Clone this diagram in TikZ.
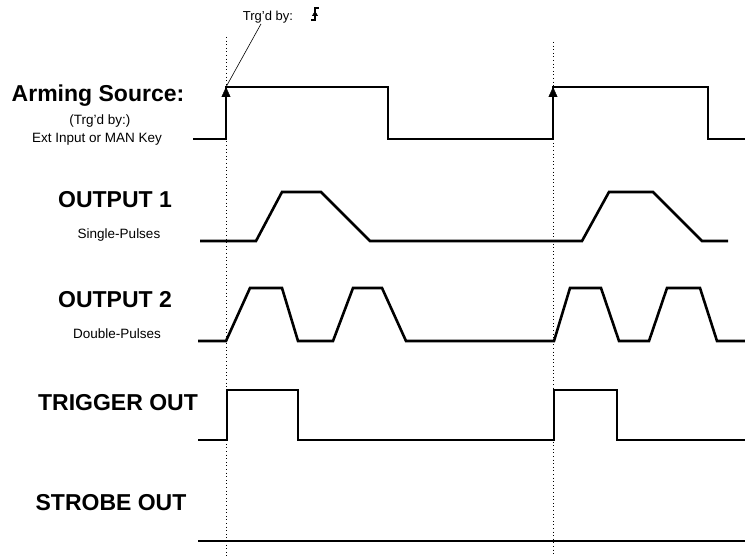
\documentclass[tikz,border=0pt]{standalone}
\usepackage{fontspec}
\setmainfont{Liberation Sans}
\usetikzlibrary{arrows.meta}

\begin{document}
\begin{tikzpicture}[>=Stealth, x=1pt, y=-1pt]

  % Define signal and label styles
  \tikzset{
    signal/.style={line width=2.6pt, line join=miter},
    marker/.style={line width=0.9pt, dash pattern=on 1pt off 2.6pt},
    big label/.style={font=\bfseries\fontsize{23}{25}\selectfont, inner sep=0pt, anchor=base},
    sub label/.style={font=\fontsize{13.5}{15}\selectfont, inner sep=0pt, anchor=base},
    edge arrow/.style={-{Triangle[length=10pt, width=9pt]}},
  }

  \useasboundingbox (0,0) rectangle (745,556);

  % Trigger markers
  \draw[marker] (226,37) -- (226,556);
  \draw[marker] (553,42) -- (553,556);

  % Arming source
  \coordinate (rise1) at (226,87);
  \coordinate (rise2) at (553,87);
  \node[big label] (arm) at (98,102) {Arming Source:};
  \node[sub label] (armtrg) at (100,125) {(Trg'd by:)};
  \node[sub label] (armsrc) at (97,143) {Ext Input or MAN Key};
  \draw[signal] (193,139) -- (226,139) -- (rise1) -- (388,87) -- (388,139) -- (553,139)
    -- (rise2) -- (708,87) -- (708,139) -- (745,139);
  \draw[edge arrow] (226,110) -- (rise1);
  \draw[edge arrow] (553,110) -- (rise2);

  % Trigger note
  \node[sub label, font=\fontsize{13}{14}\selectfont] (trg) at (268,21) {Trg'd by:};
  \draw[line width=0.6pt] ([xshift=-7pt]trg.south) -- (rise1);
  \draw[line width=1.1pt] (311,20) -- (315,20) -- (315,8) -- (319,8);
  \draw[-{Triangle[length=5pt, width=6pt]}] (315,19) -- (315,11);

  % Output 1
  \node[big label] (out1) at (115,208) {OUTPUT 1};
  \node[sub label] (out1sub) at (119,239) {Single-Pulses};
  \draw[signal] (200,241) -- (256,241) -- (282,192) -- (321,192) -- (370,241) -- (582,241)
    -- (609,192) -- (653,192) -- (702,241) -- (728,241);

  % Output 2
  \node[big label] (out2) at (115,308) {OUTPUT 2};
  \node[sub label] (out2sub) at (117,339) {Double-Pulses};
  \draw[signal] (198,341) -- (226,341) -- (250,288) -- (282,288) -- (298,341) -- (333,341)
    -- (353,288) -- (382,288) -- (406,341) -- (554,341) -- (570,288) -- (601,288)
    -- (619,341) -- (649,341) -- (667,288) -- (700,288) -- (717,341) -- (745,341);

  % Trigger out
  \node[big label] (trig) at (118,410) {TRIGGER OUT};
  \draw[signal] (198,440) -- (227,440) -- (227,390) -- (298,390) -- (298,440) -- (554,440)
    -- (554,390) -- (617,390) -- (617,440) -- (745,440);

  % Strobe out
  \node[big label] (strobe) at (111,510) {STROBE OUT};
  \draw[signal] (198,541) -- (745,541);

\end{tikzpicture}
\end{document}
